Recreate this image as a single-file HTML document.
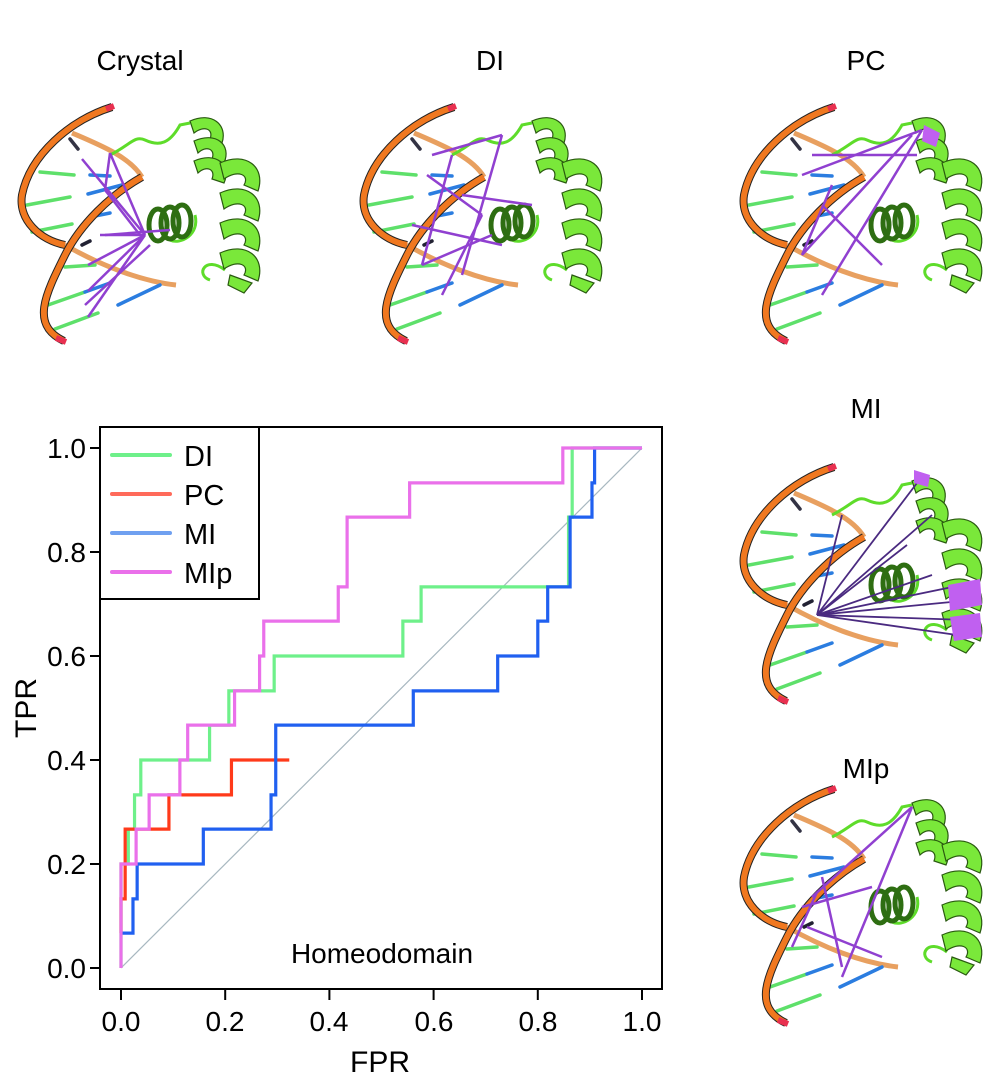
<!DOCTYPE html>
<html><head><meta charset="utf-8"><style>
html,body{margin:0;padding:0;background:#fff;}
svg{display:block;font-family:"Liberation Sans",Arial,sans-serif;}
</style></head><body>
<svg width="1000" height="1074" viewBox="0 0 1000 1074" xmlns="http://www.w3.org/2000/svg">
<defs>
<g id="mol">
  <path d="M62,38 C90,50 120,62 132,82" fill="none" stroke="#e8a060" stroke-width="5"/>
  <path d="M55,150 C90,170 130,186 166,190" fill="none" stroke="#e8a060" stroke-width="5"/>
  <g stroke-width="3.5" stroke-linecap="round">
    <line x1="60" y1="44" x2="68" y2="54" stroke="#334"/>
    <line x1="30" y1="77" x2="64" y2="80" stroke="#5ee06a"/>
    <line x1="80" y1="80" x2="100" y2="81" stroke="#2b7de0"/>
    <line x1="17" y1="110" x2="60" y2="102" stroke="#5ee06a"/>
    <line x1="78" y1="99" x2="112" y2="90" stroke="#2b7de0"/>
    <line x1="22" y1="137" x2="62" y2="129" stroke="#5ee06a"/>
    <line x1="80" y1="122" x2="100" y2="118" stroke="#2b7de0"/>
    <line x1="72" y1="150" x2="80" y2="146" stroke="#223"/>
    <line x1="55" y1="172" x2="85" y2="170" stroke="#5ee06a"/>
    <line x1="38" y1="210" x2="75" y2="197" stroke="#5ee06a"/>
    <line x1="75" y1="197" x2="100" y2="188" stroke="#2b7de0"/>
    <line x1="108" y1="210" x2="150" y2="190" stroke="#2b7de0"/>
    <line x1="45" y1="234" x2="88" y2="218" stroke="#5ee06a"/>
  </g>
  <path d="M102,12 C60,25 20,60 12,100 C8,125 30,145 55,150" fill="none" stroke="#222" stroke-width="8"/>
  <path d="M102,12 C60,25 20,60 12,100 C8,125 30,145 55,150" fill="none" stroke="#f07820" stroke-width="6"/>
  <path d="M132,82 C100,100 70,130 55,160 C35,200 20,230 54,246" fill="none" stroke="#222" stroke-width="8"/>
  <path d="M132,82 C100,100 70,130 55,160 C35,200 20,230 54,246" fill="none" stroke="#f07820" stroke-width="6"/>
  <path d="M96,14 L104,11" stroke="#e83050" stroke-width="6"/>
  <path d="M46,243 L56,247" stroke="#e83050" stroke-width="6"/>
  <path d="M100,60 C120,50 125,40 135,45 C150,52 160,48 170,30 L180,28" fill="none" stroke="#5edc2a" stroke-width="3"/>
  <path d="M185,120 C190,140 170,150 160,145" fill="none" stroke="#5edc2a" stroke-width="3"/>
  <path d="M215,175 C195,160 185,180 200,185" fill="none" stroke="#5edc2a" stroke-width="3"/>
  <g fill="none" stroke="#2e6e12" stroke-width="5">
    <ellipse cx="148" cy="130" rx="9" ry="16"/>
    <ellipse cx="160" cy="128" rx="9" ry="16"/>
    <ellipse cx="172" cy="126" rx="9" ry="16"/>
  </g>
  <g fill="#7ae83a" stroke="#2a5a10" stroke-width="1.2">
    <path d="M180,26 C202,16 218,30 212,48 L200,44 C204,34 194,30 184,38 Z"/>
    <path d="M184,46 C206,36 222,50 214,68 L202,64 C206,54 196,50 188,58 Z"/>
    <path d="M184,66 C206,56 222,70 214,88 L202,84 C206,74 196,70 188,78 Z"/>
    <path d="M210,68 C236,56 256,72 248,96 L234,90 C240,80 228,74 214,84 Z"/>
    <path d="M210,98 C236,86 256,102 248,126 L234,120 C240,110 228,104 214,114 Z"/>
    <path d="M210,128 C236,116 256,132 248,156 L234,150 C240,140 228,134 214,144 Z"/>
    <path d="M210,158 C236,146 256,162 248,186 L234,180 C240,170 228,164 214,174 Z"/>
    <path d="M220,180 L242,188 L234,198 L218,190 Z"/>
  </g>
</g>
</defs>

<g font-size="28" text-anchor="middle" fill="#000">
  <text x="140" y="70">Crystal</text>
  <text x="490" y="70">DI</text>
  <text x="866" y="70">PC</text>
  <text x="866" y="418">MI</text>
  <text x="866" y="778">MIp</text>
</g>

<g transform="translate(10,95)">
  <use href="#mol"/>
  <g stroke="#9040d0" stroke-width="2.5">
    <line x1="135" y1="140" x2="72" y2="64"/><line x1="135" y1="140" x2="100" y2="58"/>
    <line x1="135" y1="140" x2="78" y2="170"/><line x1="135" y1="140" x2="78" y2="196"/>
    <line x1="135" y1="140" x2="78" y2="222"/><line x1="135" y1="140" x2="90" y2="140"/>
    <line x1="160" y1="135" x2="95" y2="140"/><line x1="140" y1="150" x2="75" y2="210"/>
    <line x1="100" y1="58" x2="95" y2="95"/><line x1="95" y1="95" x2="130" y2="140"/>
  </g>
</g>
<g transform="translate(352,95)">
  <use href="#mol"/>
  <g stroke="#9040d0" stroke-width="2.5">
    <line x1="80" y1="60" x2="150" y2="40"/><line x1="150" y1="40" x2="110" y2="180"/>
    <line x1="75" y1="80" x2="130" y2="120"/><line x1="130" y1="120" x2="90" y2="200"/>
    <line x1="100" y1="60" x2="70" y2="170"/><line x1="70" y1="170" x2="140" y2="140"/>
    <line x1="110" y1="100" x2="180" y2="110"/><line x1="60" y1="130" x2="150" y2="150"/>
  </g>
</g>
<g transform="translate(732,95)">
  <use href="#mol"/>
  <g stroke="#9040d0" stroke-width="2.5">
    <line x1="70" y1="80" x2="190" y2="35"/><line x1="190" y1="35" x2="90" y2="200"/>
    <line x1="80" y1="60" x2="185" y2="60"/><line x1="100" y1="90" x2="70" y2="160"/>
    <line x1="70" y1="160" x2="180" y2="40"/><line x1="90" y1="110" x2="150" y2="170"/>
  </g>
  <path d="M192,30 L208,38 L204,52 L190,46 Z" fill="#c060f0"/>
</g>
<g transform="translate(732,455)">
  <use href="#mol"/>
  <g stroke="#4a2a80" stroke-width="1.8">
    <line x1="85" y1="160" x2="185" y2="28"/><line x1="85" y1="160" x2="200" y2="60"/>
    <line x1="85" y1="160" x2="175" y2="90"/><line x1="85" y1="160" x2="110" y2="60"/>
    <line x1="85" y1="160" x2="230" y2="130"/><line x1="85" y1="160" x2="240" y2="145"/>
    <line x1="85" y1="160" x2="235" y2="165"/><line x1="85" y1="160" x2="225" y2="180"/>
    <line x1="85" y1="160" x2="200" y2="120"/>
  </g>
  <g fill="#c060f0"><path d="M182,15 L198,20 L196,32 L182,28 Z"/><path d="M216,130 L248,124 L250,150 L218,156 Z"/><path d="M218,162 L248,158 L250,182 L222,186 Z"/></g>
</g>
<g transform="translate(732,777)">
  <use href="#mol"/>
  <g stroke="#9040d0" stroke-width="2.5">
    <line x1="80" y1="120" x2="180" y2="30"/><line x1="180" y1="30" x2="110" y2="200"/>
    <line x1="70" y1="130" x2="140" y2="110"/><line x1="90" y1="100" x2="110" y2="190"/>
    <line x1="75" y1="150" x2="150" y2="180"/><line x1="85" y1="115" x2="60" y2="170"/>
  </g>
</g>

<rect x="100" y="427" width="562" height="562" fill="none" stroke="#000" stroke-width="2"/>
<g stroke="#000" stroke-width="2">
  <line x1="100" y1="968" x2="90" y2="968"/><line x1="100" y1="864" x2="90" y2="864"/>
  <line x1="100" y1="760" x2="90" y2="760"/><line x1="100" y1="656" x2="90" y2="656"/>
  <line x1="100" y1="552" x2="90" y2="552"/><line x1="100" y1="448" x2="90" y2="448"/>
  <line x1="121" y1="989" x2="121" y2="1000"/><line x1="225.2" y1="989" x2="225.2" y2="1000"/>
  <line x1="329.4" y1="989" x2="329.4" y2="1000"/><line x1="433.6" y1="989" x2="433.6" y2="1000"/>
  <line x1="537.8" y1="989" x2="537.8" y2="1000"/><line x1="642" y1="989" x2="642" y2="1000"/>
</g>
<g font-size="28" text-anchor="end" fill="#000">
  <text x="86" y="978">0.0</text><text x="86" y="874">0.2</text><text x="86" y="770">0.4</text>
  <text x="86" y="666">0.6</text><text x="86" y="562">0.8</text><text x="86" y="458">1.0</text>
</g>
<g font-size="28" text-anchor="middle" fill="#000">
  <text x="121" y="1031">0.0</text><text x="225" y="1031">0.2</text><text x="329" y="1031">0.4</text>
  <text x="434" y="1031">0.6</text><text x="538" y="1031">0.8</text><text x="642" y="1031">1.0</text>
  <text x="380" y="1072" font-size="30">FPR</text>
  <text x="382" y="963">Homeodomain</text>
</g>
<text x="36" y="708" font-size="30" text-anchor="middle" transform="rotate(-90 36 708)">TPR</text>

<g transform="translate(121,968) scale(521,-520)" fill="none">
  <line x1="0" y1="0" x2="1" y2="1" stroke="#a8b8c0" stroke-width="1.2" vector-effect="non-scaling-stroke"/>
  <path vector-effect="non-scaling-stroke" stroke-width="3.2" stroke="#6ef08a" d="M0,0 V0.2 H0.014 V0.267 H0.026 V0.333 H0.038 V0.4 H0.17 V0.467 H0.207 V0.533 H0.294 V0.6 H0.541 V0.667 H0.576 V0.733 H0.859 V0.867 H0.866 V1 H1"/>
  <path vector-effect="non-scaling-stroke" stroke-width="3.2" stroke="#ff3a1a" d="M0,0.067 V0.133 H0.008 V0.267 H0.092 V0.333 H0.212 V0.4 H0.323"/>
  <path vector-effect="non-scaling-stroke" stroke-width="3.2" stroke="#2060f0" d="M0,0.067 H0.023 V0.133 H0.031 V0.2 H0.158 V0.267 H0.288 V0.333 H0.297 V0.467 H0.561 V0.533 H0.723 V0.6 H0.8 V0.667 H0.819 V0.733 H0.862 V0.867 H0.904 V0.933 H0.909 V1 H1"/>
  <path vector-effect="non-scaling-stroke" stroke-width="3.2" stroke="#ea70ea" d="M0,0 V0.2 H0.029 V0.267 H0.054 V0.333 H0.113 V0.4 H0.128 V0.467 H0.218 V0.533 H0.266 V0.6 H0.274 V0.667 H0.417 V0.733 H0.434 V0.867 H0.554 V0.933 H0.848 V1 H1"/>
</g>

<rect x="100" y="427" width="159" height="172" fill="#fff" stroke="#000" stroke-width="2"/>
<g stroke-width="4" stroke-linecap="round">
  <line x1="112" y1="455" x2="170" y2="455" stroke="#6ef08a"/>
  <line x1="112" y1="494" x2="170" y2="494" stroke="#ff6a5a"/>
  <line x1="112" y1="533" x2="170" y2="533" stroke="#6fa0f0"/>
  <line x1="112" y1="572" x2="170" y2="572" stroke="#ea70ea"/>
</g>
<g font-size="29" fill="#000">
  <text x="184" y="466">DI</text><text x="184" y="505">PC</text>
  <text x="184" y="544">MI</text><text x="184" y="583">MIp</text>
</g>
</svg>
</body></html>
